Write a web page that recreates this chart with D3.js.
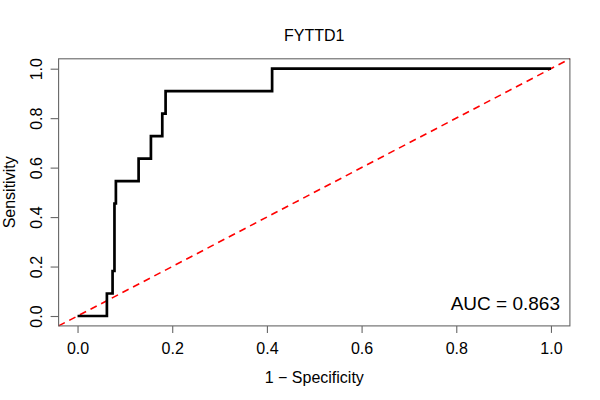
<!DOCTYPE html>
<html>
<head>
<meta charset="utf-8">
<script src="https://cdn.jsdelivr.net/npm/d3@7"></script>
<style>
  body { margin: 0; background: #fff; }
  text { font-family: "Liberation Sans", Arial, sans-serif; }
</style>
</head>
<body>
<div id="chart"></div>
<script>
// ROC curve points (1 - specificity, sensitivity)
var fpr = [0, 0.062, 0.074, 0.078, 0.081, 0.129, 0.155, 0.179, 0.186, 0.411, 1.0];
var tpr = [0, 0.091, 0.182, 0.455, 0.545, 0.636, 0.727, 0.818, 0.909, 1.0, 1.0];
var ticks = [0, 0.2, 0.4, 0.6, 0.8, 1.0];
var titel = "FYTTD1";
var aucText = "AUC = 0.863";

var svgWidth = 600, svgHeight = 400;

var svg = d3.select("#chart").append("svg")
    .attr("width", svgWidth)
    .attr("height", svgHeight);

// R style: domain padded 4% each side
var x = d3.scaleLinear().domain([-0.04, 1.04]).range([58.6, 569.9]);
var y = d3.scaleLinear().domain([-0.04, 1.04]).range([325.9, 58.8]);

var data = fpr.map(function (f, i) {
    return { fpr: f, tpr: tpr[i] };
});

// diagonal reference line
svg.append("path")
    .attr("fill", "none")
    .attr("stroke", "#ff0000")
    .attr("stroke-width", 1.6)
    .attr("stroke-dasharray", "7,5")
    .attr("d", d3.line()([[x(-0.04), y(-0.04)], [x(1.04), y(1.04)]]));

// curve
var line = d3.line()
    .x(d => x(d.fpr))
    .y(d => y(d.tpr))
    .curve(d3.curveStepAfter);

svg.append("path")
    .datum(data)
    .attr("fill", "none")
    .attr("stroke", "#000")
    .attr("stroke-width", 2.7)
    .attr("d", line);

// box
svg.append("rect")
    .attr("x", x(-0.04))
    .attr("y", y(1.04))
    .attr("width", x(1.04) - x(-0.04))
    .attr("height", y(-0.04) - y(1.04))
    .attr("fill", "none")
    .attr("stroke", "#666")
    .attr("stroke-width", 1.1);

// eixos
var gx = svg.append("g")
    .attr("transform", "translate(0," + y(-0.04) + ")")
    .call(d3.axisBottom(x).tickValues(ticks).tickFormat(d3.format(".1f"))
        .tickSize(7).tickSizeOuter(0).tickPadding(10));

var gy = svg.append("g")
    .attr("transform", "translate(" + x(-0.04) + ",0)")
    .call(d3.axisLeft(y).tickValues(ticks).tickFormat(d3.format(".1f"))
        .tickSize(8).tickSizeOuter(0));

[gx, gy].forEach(function (g) {
    g.select(".domain").remove();
    g.selectAll(".tick line").attr("stroke", "#666").attr("stroke-width", 1.1);
    g.selectAll(".tick text")
        .attr("fill", "#000")
        .style("font-size", "16px")
        .style("font-family", "'Liberation Sans', Arial, sans-serif");
});

gy.selectAll(".tick text")
    .attr("x", null)
    .attr("dy", null)
    .attr("text-anchor", "middle")
    .attr("transform", "translate(-17,0) rotate(-90)");

// titles
svg.append("text")
    .attr("x", (x(-0.04) + x(1.04)) / 2)
    .attr("y", 41)
    .attr("text-anchor", "middle")
    .style("font-size", "16px")
    .text(titel);

svg.append("text")
    .attr("x", (x(-0.04) + x(1.04)) / 2)
    .attr("y", 383)
    .attr("text-anchor", "middle")
    .style("font-size", "16px")
    .text("1 \u2212 Specificity");

svg.append("text")
    .attr("transform", "translate(15," + (y(-0.04) + y(1.04)) / 2 + ") rotate(-90)")
    .attr("text-anchor", "middle")
    .style("font-size", "16px")
    .text("Sensitivity");

svg.append("text")
    .attr("x", 560)
    .attr("y", 310)
    .attr("text-anchor", "end")
    .style("font-size", "19px")
    .text(aucText);
</script>
</body>
</html>
